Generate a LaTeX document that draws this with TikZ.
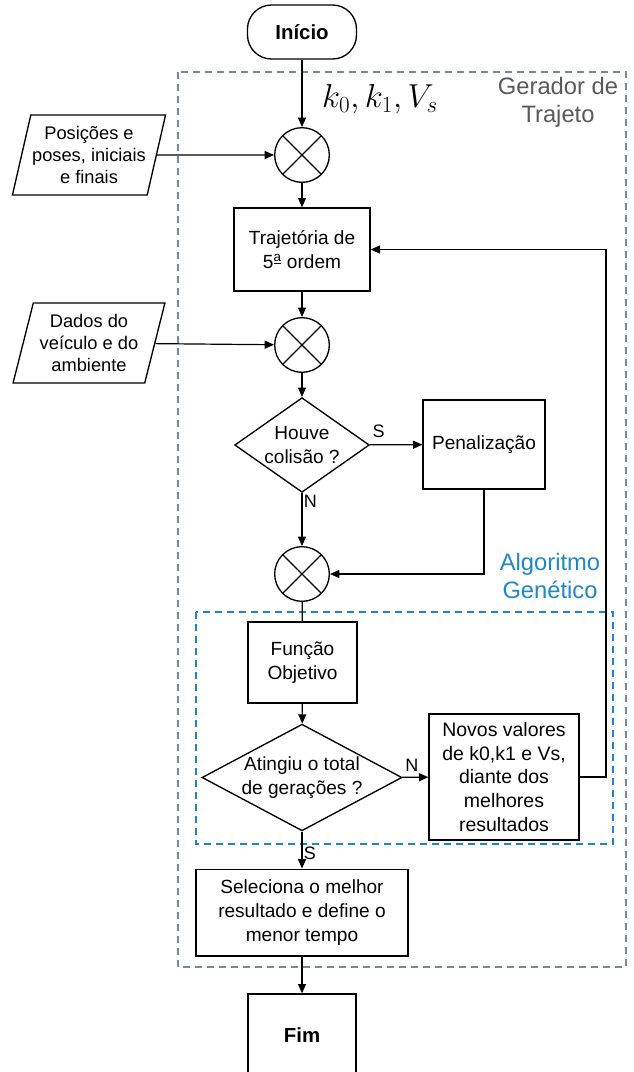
\documentclass[tikz,border=0pt]{standalone}
\usepackage{fontspec}
\setmainfont{Liberation Sans}
\usetikzlibrary{shapes.geometric, arrows.meta}

\definecolor{cinzaborda}{RGB}{122,134,154}
\definecolor{azulga}{RGB}{30,135,200}

\begin{document}
\begin{tikzpicture}[x=0.75pt, y=-0.75pt, >={Triangle[length=7pt, width=6pt]},
    every node/.style={font=\fontsize{14.3}{18}\selectfont, align=center, inner sep=1pt},
    caixa/.style={rectangle, draw, line width=1pt},
    terminal/.style={rectangle, rounded corners=18pt, draw, line width=1pt, minimum width=81.75pt, minimum height=40.5pt, font=\fontsize{15.3}{18}\selectfont\bfseries},
    decisao/.style={diamond, draw, line width=1pt, inner sep=0pt},
    entrada/.style={trapezium, trapezium left angle=73, trapezium right angle=107, trapezium stretches=true, draw, line width=1pt, minimum width=114pt, minimum height=60pt, font=\fontsize{13.7}{16.5}\selectfont},
    soma/.style={circle, draw, line width=1pt, minimum size=41pt,
        path picture={\draw[line width=1pt] (path picture bounding box.north west) -- (path picture bounding box.south east)
                                            (path picture bounding box.north east) -- (path picture bounding box.south west);}},
    rotulo/.style={font=\fontsize{13.5}{15}\selectfont},
    seta/.style={->, line width=0.9pt}]
    \useasboundingbox (0,0) rectangle (633,1072);

    % Blocos de agrupamento
    \draw[cinzaborda, line width=1pt, dash pattern=on 5pt off 4pt] (178,72) rectangle (626,967);
    \draw[azulga, line width=1pt, dash pattern=on 5pt off 4pt] (196,612) rectangle (613,844);
    \node[text=black!65, font=\fontsize{17.8}{21}\selectfont] (gerador) at (558,102) {Gerador de\\Trajeto};
    \node[text=azulga, font=\fontsize{17.8}{21}\selectfont] (algoritmo) at (550,576) {Algoritmo\\Genético};

    % Coluna principal
    \node[terminal] (inicio) at (302,32) {Início};
    \node[font=\fontsize{24}{26}\selectfont] (parametros) at (380,99) {$k_0, k_1, V_s$};
    \node[soma] (soma1) at (302,155) {};
    \node[caixa, minimum width=102pt, minimum height=62.25pt] (traj) at (302,249.5) {Trajetória de\\5\textsuperscript{\underline{a}} ordem};
    \node[soma] (soma2) at (302,345) {};
    \node[decisao, shape aspect=1.42, minimum width=101pt, minimum height=71pt] (colisao) at (302,445) {Houve\\colisão ?};
    \node[caixa, minimum width=91.5pt, minimum height=66.75pt] (penal) at (484,444.5) {Penalização};
    \node[soma] (soma3) at (302,574) {};
    \node[caixa, minimum width=81.75pt, minimum height=60.75pt] (funcao) at (302.5,662.5) {Função\\Objetivo};
    \node[decisao, shape aspect=1.87, minimum width=150pt, minimum height=80pt] (geracoes) at (302,777.5) {Atingiu o total\\de gerações ?};
    \node[caixa, minimum width=112.5pt, minimum height=94.5pt, font=\fontsize{14.6}{17.8}\selectfont] (novos) at (504,777) {Novos valores\\de k0,k1 e Vs,\\diante dos\\melhores\\resultados};
    \node[caixa, minimum width=159pt, minimum height=65pt] (seleciona) at (302,912.5) {Seleciona o melhor\\resultado e define o\\menor tempo};
    \node[caixa, minimum width=81pt, minimum height=61.5pt, font=\fontsize{15.3}{18}\selectfont\bfseries] (fim) at (302,1035) {Fim};

    % Entradas
    \node[entrada] (posicoes) at (89,155) {Posições e\\poses, iniciais\\e finais};
    \node[entrada] (dados) at (89,343) {Dados do\\veículo e do\\ambiente};

    \coordinate (volta) at (606,249.5);

    % Ligacoes
    \draw[seta] (inicio) -- (soma1);
    \draw[seta] (posicoes) -- (soma1);
    \draw[seta] (soma1) -- (traj);
    \draw[seta] (traj) -- (soma2);
    \draw[seta] (dados) -- (soma2);
    \draw[seta] (soma2) -- (colisao);
    \draw[seta] (colisao) -- node[rotulo, above=4pt, pos=0.17] {S} (penal);
    \draw[seta] (colisao) -- node[rotulo, right, pos=0.15] {N} (soma3);
    \draw[seta] (penal) |- (soma3);
    \draw[line width=0.9pt] (soma3) -- (funcao);
    \draw[seta] (funcao) -- (geracoes);
    \draw[seta] (geracoes) -- node[rotulo, above=3pt, pos=0.37] {N} (novos);
    \draw[seta] (novos) -| (volta) -- (traj);
    \draw[seta] (geracoes) -- node[rotulo, right, pos=0.6] {S} (seleciona);
    \draw[seta] (seleciona) -- (fim);
\end{tikzpicture}
\end{document}
